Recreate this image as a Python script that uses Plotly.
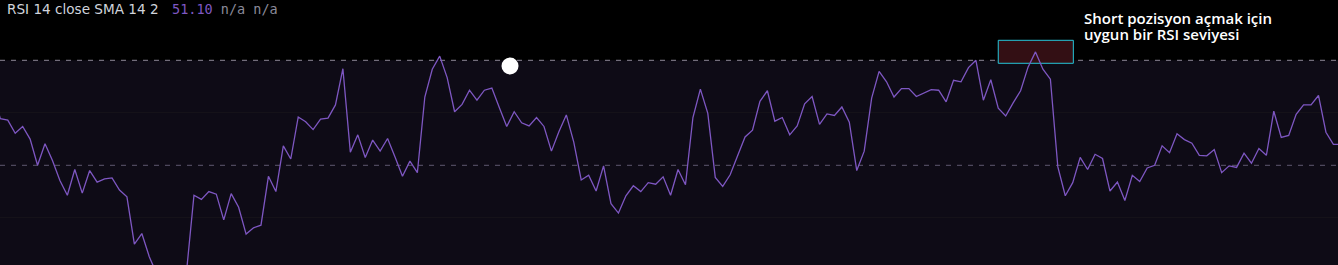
import plotly.graph_objects as go

# RSI values, one per bar (index 0 is just left of the visible area)
rsi = [
    63.4, 58.9, 58.6, 56.1, 57.4, 55.0, 50.0, 54.1, 50.9, 47.1,
    44.3, 49.2, 44.7, 49.0, 46.8, 47.4, 47.6, 45.3, 44.0, 35.0,
    37.0, 32.6, 29.3, 27.2, 26.2, 27.8, 29.7, 44.3, 43.5, 45.0,
    44.5, 39.6, 44.6, 42.0, 36.9, 38.1, 38.6, 47.9, 45.0, 53.7,
    51.2, 59.2, 58.3, 56.8, 58.8, 59.0, 61.5, 68.4, 52.5, 55.8,
    51.5, 54.8, 52.7, 55.1, 51.6, 47.9, 50.8, 48.6, 63.0, 68.3,
    70.8, 66.7, 60.2, 61.6, 64.3, 62.4, 64.3, 64.7, 61.0, 57.4,
    60.2, 58.1, 57.5, 59.1, 57.4, 52.7, 56.4, 59.6, 54.4, 47.2,
    48.1, 45.1, 49.9, 42.7, 40.9, 44.2, 46.1, 45.0, 46.7, 46.4,
    47.8, 44.3, 49.2, 46.3, 59.1, 64.5, 59.9, 47.7, 46.0, 48.2,
    51.8, 55.4, 56.7, 62.2, 64.2, 58.4, 59.1, 55.8, 57.5, 61.7,
    63.1, 57.8, 59.8, 59.5, 61.1, 58.2, 49.0, 52.7, 62.8, 67.9,
    65.9, 63.0, 64.6, 64.6, 63.1, 63.7, 64.4, 64.3, 62.1, 66.2,
    65.9, 68.6, 70.0, 62.4, 66.3, 60.9, 59.4, 61.9, 64.2, 68.7,
    71.6, 68.3, 66.4, 49.7, 44.2, 46.7, 51.5, 49.2, 52.1, 51.3,
    45.1, 46.8, 43.3, 48.1, 46.9, 49.5, 50.0, 53.7, 52.4, 56.0,
    54.9, 54.2, 51.9, 51.8, 53.0, 48.6, 49.9, 49.6, 52.3, 50.4,
    53.2, 51.9, 60.3, 55.3, 55.7, 59.7, 61.5, 61.5, 63.3, 56.3,
    54.0, 54.0,
]
bars = list(range(len(rsi)))

upper_band = 70
middle_band = 50
lower_band = 30
grid_levels = [40, 60]

marker_x = [69.44]
marker_y = [68.9]

title_text = "RSI 14 close SMA 14 2"
value_text = "51.10"
na_text = "n/a n/a"
note_line1 = "Short pozisyon açmak için"
note_line2 = "uygun bir RSI seviyesi"

W, H = 1338, 265

fig = go.Figure()
fig.add_trace(go.Scatter(
    x=bars, y=rsi, mode="lines",
    line=dict(color="#7e57c2", width=1.3),
    hoverinfo="skip", showlegend=False,
))
fig.add_trace(go.Scatter(
    x=marker_x, y=marker_y, mode="markers",
    marker=dict(color="#ffffff", size=17, line=dict(width=0)),
    hoverinfo="skip", showlegend=False, cliponaxis=False,
))

shapes = [
    dict(type="rect", xref="paper", x0=0, x1=1, yref="y", y0=lower_band, y1=upper_band,
         fillcolor="#0e0b16", line=dict(width=0), layer="below"),
    dict(type="line", xref="paper", x0=0, x1=1, yref="y", y0=upper_band, y1=upper_band,
         line=dict(color="#8c8796", width=1, dash="5px,6px"), layer="between"),
    dict(type="line", xref="paper", x0=0, x1=1, yref="y", y0=middle_band, y1=middle_band,
         line=dict(color="#5e5870", width=1, dash="5px,6px"), layer="between"),
    dict(type="rect", xref="x", x0=135.0, x1=145.08, yref="y", y0=69.43, y1=73.81,
         fillcolor="#330f14", line=dict(color="#26c6da", width=1), layer="between"),
]

note_html = (f"<span style='font-size:15px'>{note_line1}</span><br>"
             f"<span style='font-size:15px'>{note_line2}</span>")

annotations = [
    dict(xref="paper", yref="paper", x=5 / W, y=1 - 9 / H, xanchor="left", yanchor="middle",
         text=title_text, showarrow=False,
         font=dict(family="DejaVu Sans", size=13.6, color="#d1d4dc")),
    dict(xref="paper", yref="paper", x=170 / W, y=1 - 9 / H, xanchor="left", yanchor="middle",
         text=f"<span style='color:#7e57c2'>{value_text}</span> <span style='color:#8a8a99'>{na_text}</span>",
         showarrow=False,
         font=dict(family="DejaVu Sans Mono", size=13.5, color="#8a8a99")),
    dict(xref="paper", yref="paper", x=1082 / W, y=1 - 26.5 / H, xanchor="left", yanchor="middle",
         text=note_html, showarrow=False, align="left",
         font=dict(family="Open Sans", size=12, color="#ffffff", weight=600)),
]

fig.update_layout(
    width=W, height=H,
    margin=dict(l=0, r=0, t=0, b=0),
    paper_bgcolor="#000000", plot_bgcolor="#000000",
    shapes=shapes, annotations=annotations,
    showlegend=False,
    xaxis=dict(range=[0.956, 180.62], visible=False, fixedrange=True),
    yaxis=dict(range=[31.01, 81.486], showgrid=True, gridcolor="#151219", gridwidth=1,
               tickvals=grid_levels, showticklabels=False, ticks="", zeroline=False,
               showline=False, fixedrange=True),
)

fig.write_html("out.html")
